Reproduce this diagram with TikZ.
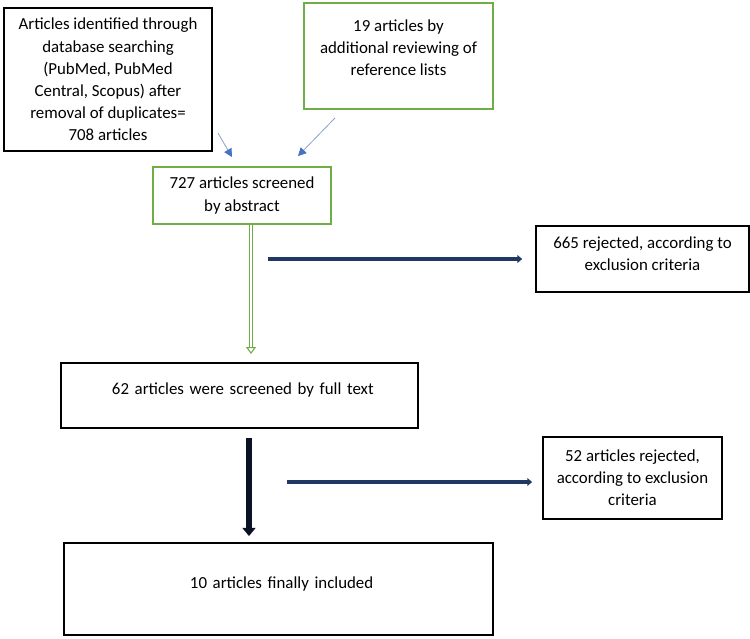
\documentclass[tikz,border=0pt]{standalone}
\usepackage{fontspec}
\setmainfont{Carlito}
\usepackage{tikz}
\usetikzlibrary{arrows.meta}
\definecolor{boxgreen}{HTML}{70AD47}
\definecolor{darknavy}{HTML}{1F3864}
\definecolor{tipblue}{HTML}{4472C4}
\definecolor{thingrey}{HTML}{8EA4C4}
\definecolor{nearblack}{HTML}{0B1226}

\begin{document}
\begin{tikzpicture}[x=0.03cm,y=-0.03cm,every node/.style={font=\fontsize{14.4}{18.9}\selectfont,inner sep=0pt},
    blackbox/.style={draw=black,line width=1.6pt,align=center},
    greenbox/.style={draw=boxgreen,line width=1.6pt,align=center},
    thinarrow/.style={draw=thingrey,line width=0.7pt,-{Triangle[color=tipblue,length=7pt,width=7pt]}},
    greenarrow/.style={draw=boxgreen,double=white,double distance=2.2pt,line width=0.9pt,-{Triangle[open,length=6pt,width=8.5pt]}},
    rejarrow/.style={draw=darknavy,line width=2.8pt,-{Triangle[length=4pt,width=6.5pt]}},
    mainarrow/.style={draw=nearblack,line width=4.5pt,-{Triangle[length=7pt,width=11pt]}}]
    \useasboundingbox (0,0) rectangle (750,639);
    \node[blackbox,minimum width=6.24cm,minimum height=4.29cm] (db) at (108,79.5) {Articles identified through\\database searching\\(PubMed, PubMed\\Central, Scopus) after\\removal of duplicates=\\708 articles};
    \node[greenbox,minimum width=5.67cm,minimum height=3.18cm] (refs) at (398.5,56) {19 articles by\\additional reviewing of\\reference lists\rule[-14pt]{0pt}{14pt}};
    \node[greenbox,minimum width=5.34cm,minimum height=1.71cm] (scr) at (242,195.5) {727 articles screened\\by abstract};
    \node[blackbox,minimum width=6.39cm,minimum height=1.98cm] (excl1) at (642.5,259) {665 rejected, according to\\exclusion criteria\rule[-9pt]{0pt}{9pt}};
    \node[blackbox,minimum width=10.71cm,minimum height=1.95cm,text width=7.65cm,align=left,text height=9pt,text depth=10.7pt] (full) at (239.5,395.5) {\mbox{62 articles were screened by full text}};
    \node[blackbox,minimum width=5.37cm,minimum height=2.46cm] (excl2) at (632.5,478) {52 articles rejected,\\according to exclusion\\criteria};
    \node[blackbox,minimum width=12.87cm,minimum height=2.76cm,text width=5.31cm,align=left,text height=9pt,text depth=10.4pt] (incl) at (278.5,589) {\mbox{10 articles finally included}};
    \coordinate (rej1) at (268,259);
    \coordinate (rej2) at (287,482);
    \draw ([shift={(5,53.5)}]db.east) edge[thinarrow] ([shift={(-10,-9)}]scr.north);
    \draw ([shift={(-63.5,8)}]refs.south) edge[thinarrow] ([shift={(56,-10)}]scr.north);
    \draw ([shift={(9,0)}]scr.south) edge[greenarrow] ([shift={(11.5,-8)}]full.north);
    \draw ([shift={(9.5,9)}]full.south) edge[mainarrow] ([shift={(-29.5,-6)}]incl.north);
    \draw[rejarrow,shorten >=11pt] (rej1) -- (rej1 -| excl1.west);
    \draw[rejarrow,shorten >=8.5pt] (rej2) -- (rej2 -| excl2.west);
\end{tikzpicture}
\end{document}
